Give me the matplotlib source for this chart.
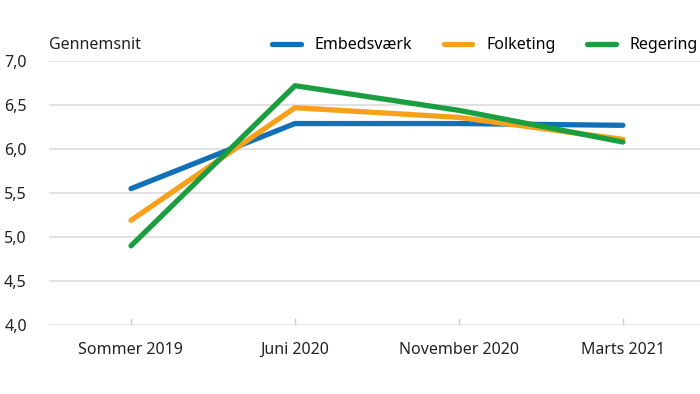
import matplotlib
matplotlib.use('Agg')
import matplotlib.pyplot as plt
from matplotlib.ticker import FuncFormatter

# data
periods = ['Sommer 2019', 'Juni 2020', 'November 2020', 'Marts 2021']
embedsvaerk = [5.55, 6.29, 6.29, 6.27]
folketing = [5.19, 6.47, 6.36, 6.11]
regering = [4.90, 6.72, 6.44, 6.08]
y_ticks = [4.0, 4.5, 5.0, 5.5, 6.0, 6.5, 7.0]

plt.rcParams['font.family'] = ['Noto Sans', 'DejaVu Sans']
fs = 11.5

fig = plt.figure(figsize=(7, 3.94), dpi=100)
ax = fig.add_axes([0.07, 0.175, 0.937, 0.670])

x = range(len(periods))
ax.plot(x, embedsvaerk, color='#1170b8', lw=3.8, solid_capstyle='round', label='Embedsværk')
ax.plot(x, folketing, color='#f7a01b', lw=3.8, solid_capstyle='round', label='Folketing')
ax.plot(x, regering, color='#1b9e3f', lw=3.8, solid_capstyle='round', label='Regering')

ax.set_xlim(-0.5, 3.5)
ax.set_ylim(4.0, 7.0)
ax.set_yticks(y_ticks)
ax.yaxis.set_major_formatter(FuncFormatter(lambda v, p: f'{v:.1f}'.replace('.', ',')))
ax.set_xticks(list(x))
ax.set_xticklabels(periods)

# gridlines and styling
ax.grid(axis='y', color='#d9d9d9', lw=1.1)
ax.set_axisbelow(True)
for s in ax.spines.values():
    s.set_visible(False)
ax.tick_params(axis='y', length=0, pad=16, labelsize=fs, labelcolor='#222222')
ax.tick_params(axis='x', direction='in', length=5, width=1, color='#cccccc',
               pad=12, labelsize=fs, labelcolor='#222222')

fig.text(0.07, 0.885, 'Gennemsnit', fontsize=fs, color='#222222', va='center')

ax.legend(loc='center right', bbox_to_anchor=(0.997, 0.885), bbox_transform=fig.transFigure,
          ncol=3, frameon=False, fontsize=fs, handlelength=1.8, handletextpad=0.85,
          columnspacing=2.0, borderaxespad=0, borderpad=0)

fig.savefig('out.png', dpi=100)
